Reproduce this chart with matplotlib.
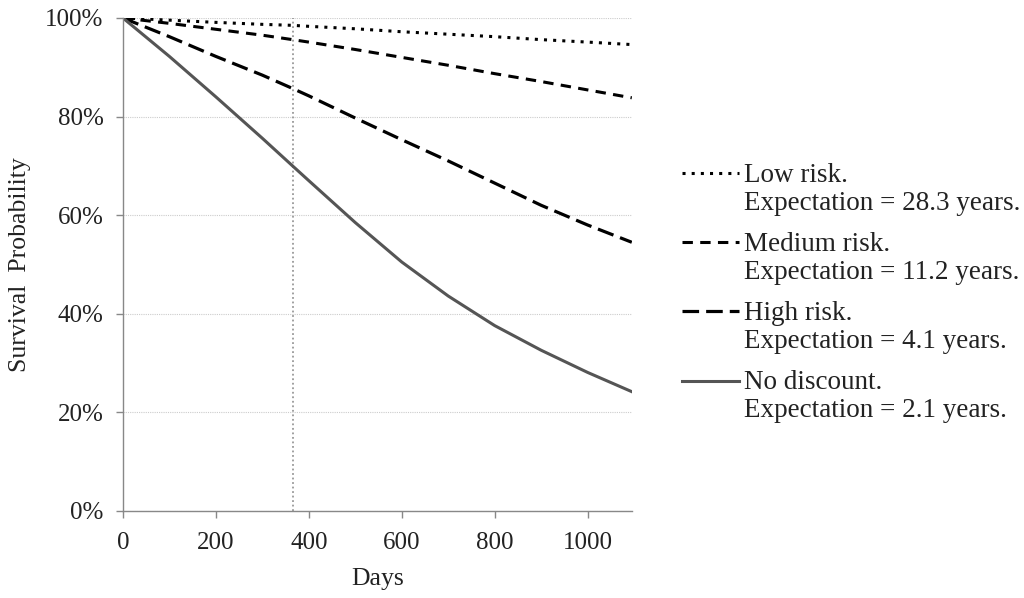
import matplotlib
matplotlib.use("Agg")
import matplotlib.pyplot as plt
import numpy as np
from matplotlib.legend_handler import HandlerLine2D
from matplotlib.ticker import PercentFormatter

# survival curves (percent)
days = [0, 100, 200, 300, 365, 400, 500, 600, 700, 800, 900, 1000, 1095]
low_risk = [100, 99.55, 99.1, 98.7, 98.5, 98.3, 97.8, 97.2, 96.7, 96.2, 95.6, 95.1, 94.6]
medium_risk = [100, 98.9, 97.7, 96.5, 95.6, 95.1, 93.6, 92.0, 90.4, 88.7, 87.1, 85.4, 83.8]
high_risk = [100, 96.2, 92.2, 88.4, 85.7, 84.2, 79.7, 75.3, 71.0, 66.5, 62.0, 58.0, 54.5]
no_discount = [100, 92.2, 84.0, 75.6, 70.0, 67.0, 58.5, 50.5, 43.6, 37.6, 32.6, 28.1, 24.2]

labels = ["Low risk.\nExpectation = 28.3 years.",
          "Medium risk.\nExpectation = 11.2 years.",
          "High risk.\nExpectation = 4.1 years.",
          "No discount.\nExpectation = 2.1 years."]
one_year = 365

plt.rcParams['font.family'] = ['Liberation Serif', 'DejaVu Serif']
txt = '#222222'


class TopHandler(HandlerLine2D):
    # put the legend line next to the first text line, not the middle
    def create_artists(self, legend, orig_handle, xdescent, ydescent,
                       width, height, fontsize, trans):
        arts = super().create_artists(legend, orig_handle, xdescent, ydescent,
                                      width, height, fontsize, trans)
        for a in arts:
            a.set_ydata(np.asarray(a.get_ydata()) + 0.6 * fontsize)
        return arts


fig = plt.figure(figsize=(10.24, 5.98), dpi=100)
ax = fig.add_axes([0.120, 0.1455, 0.497, 0.8245])

ax.axvline(one_year, color='#999999', lw=1.3, ls=(0, (1, 1.5)), zorder=1)

l1, = ax.plot(days, low_risk, color='black', lw=2.2, ls=(0, (1, 2.0)))
l2, = ax.plot(days, medium_risk, color='black', lw=2.2, ls=(0, (3.4, 2.4)))
l3, = ax.plot(days, high_risk, color='black', lw=2.3, ls=(0, (5.2, 2.2)))
l4, = ax.plot(days, no_discount, color='#555555', lw=2.2, ls='-')

ax.set_xlim(0, 1095)
ax.set_ylim(0, 100)
ax.set_xticks([0, 200, 400, 600, 800, 1000])
ax.set_yticks([0, 20, 40, 60, 80, 100])
ax.yaxis.set_major_formatter(PercentFormatter(decimals=0))
ax.yaxis.grid(True, color='#cccccc', lw=0.8, ls=(0, (1, 1)))
ax.set_axisbelow(True)

for s in ['top', 'right']:
    ax.spines[s].set_visible(False)
for s in ['left', 'bottom']:
    ax.spines[s].set_color('#888888')
    ax.spines[s].set_linewidth(1.0)

ax.tick_params(axis='both', colors='#888888', labelcolor=txt, labelsize=18,
               length=5, width=1.0)
ax.tick_params(axis='x', pad=10)
ax.tick_params(axis='y', pad=9)

ax.set_xlabel('Days', fontsize=18.5, color=txt, labelpad=10)
ax.set_ylabel('Survival  Probability', fontsize=18.5, color=txt, labelpad=10)

leg = fig.legend([l1, l2, l3, l4], labels, loc='center left',
                 bbox_to_anchor=(0.666, 0.510), frameon=False, fontsize=19.5,
                 handlelength=2.1, handletextpad=0.2, labelspacing=0.6,
                 borderpad=0, borderaxespad=0,
                 handler_map={matplotlib.lines.Line2D: TopHandler()})
for t in leg.get_texts():
    t.set_color(txt)
    t.set_linespacing(1.16)

fig.savefig('out.png', dpi=100)
